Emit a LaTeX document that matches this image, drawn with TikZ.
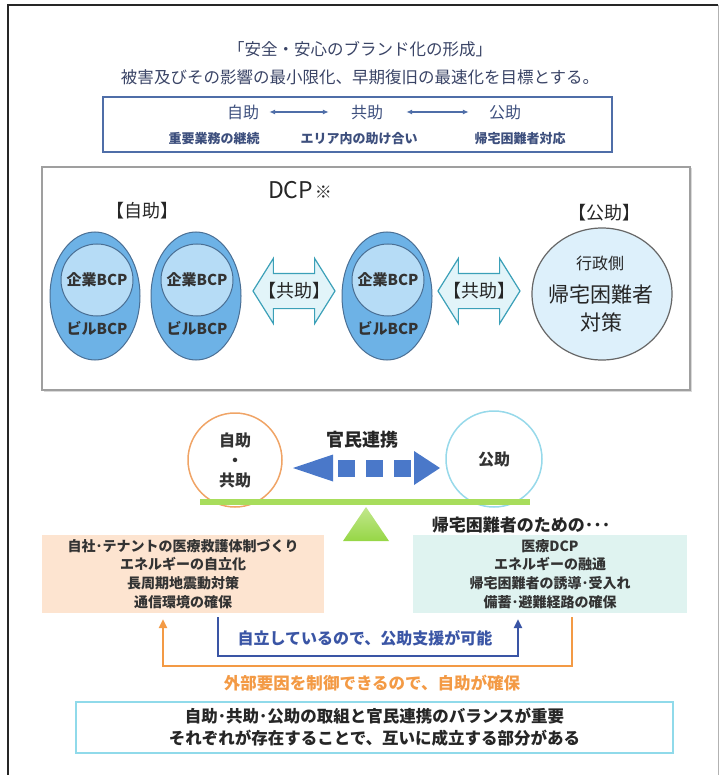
\documentclass[tikz,border=0pt]{standalone}
\usepackage{fontspec}
\setmainfont{Noto Sans CJK JP}
\usetikzlibrary{positioning,shapes.geometric,shapes.arrows,shadows,arrows.meta}

\definecolor{titlec}{HTML}{3A4466}
\definecolor{wakuc}{HTML}{4F6EA8}
\definecolor{jyoc}{HTML}{3D4F7D}
\definecolor{bcpline}{HTML}{4A6F94}
\definecolor{bcpfill}{HTML}{6DB2E6}
\definecolor{bcpinner}{HTML}{B6DCF6}
\definecolor{koufill}{HTML}{DDF0FB}
\definecolor{kyoline}{HTML}{3BA0B8}
\definecolor{kyofill}{HTML}{E2F4F9}
\definecolor{jijoc}{HTML}{F0A466}
\definecolor{kojoc}{HTML}{97D9EA}
\definecolor{kanminc}{HTML}{4A78C9}
\definecolor{beamc}{HTML}{A8DD5C}
\definecolor{sankakuc}{HTML}{96D646}
\definecolor{peach}{HTML}{FDE4D0}
\definecolor{mint}{HTML}{DFF3F0}
\definecolor{bluebr}{HTML}{3A55A5}
\definecolor{orangebr}{HTML}{F39A45}
\definecolor{matomec}{HTML}{90DAEA}

\begin{document}
\begin{tikzpicture}[x=1pt,y=-1pt,
  every node/.style={inner sep=0pt},
  title/.style={text=titlec,font=\fontsize{16.5}{19}\selectfont},
  jyo/.style={text=jyoc,font=\fontsize{16}{19}\selectfont},
  jyosub/.style={text=jyoc,font=\fontsize{13}{16}\selectfont\bfseries},
  tarrow/.style={draw=wakuc,line width=1.2pt,{Latex[length=6pt,width=5pt]}-{Latex[length=6pt,width=5pt]}},
  bcpout/.style={ellipse,draw=bcpline,fill=bcpfill,line width=1pt,minimum width=90pt,minimum height=128pt},
  bcpin/.style={circle,draw=bcpline,fill=bcpinner,line width=1pt,minimum size=72pt,font=\fontsize{15}{18}\selectfont\bfseries,text=black!80},
  bcptext/.style={font=\fontsize{15}{18}\selectfont\bfseries,text=black!80},
  kyojo/.style={double arrow,draw=kyoline,fill=kyofill,line width=1.2pt,double arrow head extend=15pt,
    double arrow tip angle=116,minimum height=82pt,inner xsep=0pt,inner ysep=17pt},
  kakko/.style={font=\fontsize{18}{21}\selectfont,text=black!85},
  shiso/.style={circle,draw,line width=1.5pt,fill=white,align=center,font=\fontsize{16}{20}\selectfont\bfseries,text=black!80},
  taisaku/.style={align=center,font=\fontsize{14}{18.7}\selectfont\bfseries,text=black!80,minimum height=78pt},
  bracket/.style={line width=2.5pt,-{Triangle[length=9pt,width=8pt]}}]

\useasboundingbox (0,0) rectangle (720,775);
\draw[line width=1.5pt,black!85] (8,775) -- (8,5) -- (718,5);
\draw[line width=1pt,gray!60] (718,5) -- (718,775);

% titles
\node[title] (t1) at (360,49) {「安全・安心のブランド化の形成」};
\node[title] (t2) at (360,77) {被害及びその影響の最小限化、早期復旧の最速化を目標とする。};

\node[draw=wakuc,line width=1.5pt,minimum width=509pt,minimum height=55pt] (goal) at (357.5,124.5) {};
\node[jyo] (jj) at (243,112) {自助};
\node[jyo] (kj) at (367,112) {共助};
\node[jyo] (oj) at (505,112) {公助};
\draw[tarrow] ([xshift=10pt]jj.east) -- ([xshift=-22pt]kj.west);
\draw[tarrow] ([xshift=23pt]kj.east) -- ([xshift=-20pt]oj.west);
\node[jyosub] at (214,139) {重要業務の継続};
\node[jyosub] at (359,139) {エリア内の助け合い};
\node[jyosub] at (520,139) {帰宅困難者対応};

% DCP
\node[draw=gray!75,line width=1.3pt,fill=white,minimum width=648pt,minimum height=223pt,
  drop shadow={shadow xshift=1.5pt,shadow yshift=-1.5pt,opacity=.3}] (dcp) at (366,278.5) {};
\node[text=black!85] (dcpt) at (300,190) {{\fontsize{23}{27}\selectfont DCP}\,{\fontsize{17}{20}\selectfont ※}};
\node[kakko] (jk) at (142,211) {【自助】};
\node[kakko] (ok) at (604,213) {【公助】};

\node[bcpout] (e1) at (95,296) {};
\node[bcpin] (c1) at (97,280) {企業BCP};
\node[bcptext] at (97,328) {ビルBCP};
\node[bcpout] (e2) at (196,296) {};
\node[bcpin] (c2) at (197,280) {企業BCP};
\node[bcptext] at (197,328) {ビルBCP};
\node[bcpout] (e3) at (387,296) {};
\node[bcpin] (c3) at (388,280) {企業BCP};
\node[bcptext] at (388,328) {ビルBCP};

\node[kyojo] (ka1) at (294,291) {};
\node[kakko] at (ka1.center) {【共助】};
\node[kyojo] (ka2) at (479,291) {};
\node[kakko] at (ka2.center) {【共助】};

\node[ellipse,draw=gray!80!black,fill=koufill,line width=1.2pt,minimum width=140pt,minimum height=132pt] (kou) at (602,294) {};
\node[font=\fontsize{16}{19}\selectfont,text=black!85] at (600,263) {行政側};
\node[font=\fontsize{21}{25}\selectfont,text=black!85] at (601,295) {帰宅困難者};
\node[font=\fontsize{21}{25}\selectfont,text=black!85] at (601,322) {対策};

% seesaw
\node[shiso,draw=jijoc,minimum size=94pt] (jiko) at (235,460) {自助\\・\\共助};
\node[shiso,draw=kojoc,minimum size=96pt] (ko) at (494,459) {公助};
\node[font=\fontsize{18}{21}\selectfont\bfseries,text=black!85] (kanmin) at (362,440) {官民連携};
\fill[kanminc] (293,468) -- (333,454.5) -- (333,481.5) -- cycle;
\draw[kanminc,line width=17pt,dash pattern=on 17pt off 11pt] (338,468) -- (411,468);
\fill[kanminc] (440,468) -- (414,451) -- (414,485) -- cycle;
\coordinate (bl) at (200,502);
\coordinate (br) at (530,502);
\draw[beamc,line width=6pt] (bl) -- (br);
\shade[top color=beamc!70,bottom color=sankakuc] (366,507) -- (389,541) -- (343,541) -- cycle;
\node[font=\fontsize{17}{20}\selectfont\bfseries,text=black!85] (tame) at (521,525) {帰宅困難者のための･･･};

% measures
\node[taisaku,fill=peach,minimum width=282pt] (jibox) at (183,574)
  {自社･テナントの医療救護体制づくり\\エネルギーの自立化\\長周期地震動対策\\通信環境の確保};
\node[taisaku,fill=mint,minimum width=274pt] (kobox) at (550,574)
  {医療DCP\\エネルギーの融通\\帰宅困難者の誘導･受入れ\\備蓄･避難経路の確保};

\draw[bracket,bluebr] ([xshift=35pt,yshift=-4pt]jibox.south) -- ++(0,39) -| ([xshift=-32pt,yshift=-6pt]kobox.south);
\node[font=\fontsize{16}{19}\selectfont\bfseries,text=bluebr] (jiritsu) at (365,638) {自立しているので、公助支援が可能};
\draw[bracket,orangebr] ([xshift=22pt,yshift=-4pt]kobox.south) -- ++(0,49) -| ([xshift=-20pt,yshift=-6pt]jibox.south);
\node[font=\fontsize{16.5}{19}\selectfont\bfseries,text=orangebr] (gaibu) at (372,683) {外部要因を制御できるので、自助が確保};

\node[draw=matomec,line width=2pt,minimum width=597pt,minimum height=51pt,align=center,
  font=\fontsize{16.5}{22}\selectfont\bfseries,text=black!85] (matome) at (374.5,727.5)
  {自助･共助･公助の取組と官民連携のバランスが重要\\それぞれが存在することで、互いに成立する部分がある};
\end{tikzpicture}
\end{document}
